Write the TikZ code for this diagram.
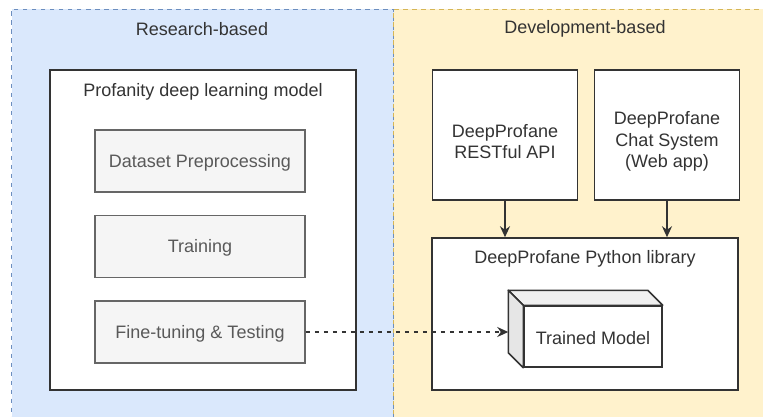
\documentclass[tikz,border=0pt]{standalone}
\usepackage{fontspec}
\setmainfont{Liberation Sans}
\usepackage{xcolor}
\definecolor{resfill}{HTML}{DAE8FC}
\definecolor{resline}{HTML}{6C8EBF}
\definecolor{devfill}{HTML}{FFF2CC}
\definecolor{devline}{HTML}{D6B656}
\definecolor{txt}{HTML}{333333}
\definecolor{stepfill}{HTML}{F5F5F5}
\definecolor{stepline}{HTML}{666666}
\definecolor{cubetop}{HTML}{F0F0F0}
\definecolor{cubeleft}{HTML}{E6E6E6}
\usetikzlibrary{arrows.meta, positioning}
\tikzset{
    panel/.style={
        draw, dashed,
        dash pattern=on 4.5pt off 4.5pt,
        line width=1pt,
        inner sep=0pt
    },
    caption/.style={
        text=txt,
        inner sep=0pt,
        font=\fontsize{18}{21.5}\selectfont
    },
    block/.style={
        draw=black!80, line width=1.5pt,
        fill=white,
        inner sep=0pt,
        text=txt,
        align=center,
        font=\fontsize{18}{21.5}\selectfont
    },
    stepbox/.style={
        block,
        draw=stepline, fill=stepfill,
        text=black!65,
        minimum width=210pt, minimum height=62pt,
        node distance=22pt
    },
    conn/.style={
        line width=1.5pt, draw=black!80,
        -{Stealth[length=11pt, width=10pt]}
    },
}

\begin{document}
\begin{tikzpicture}[x=1pt, y=-1pt]
        \clip (0,0) rectangle (763,417);
        % the two areas
        \node[panel, fill=resfill, draw=resline, minimum width=382pt, minimum height=440pt, anchor=north west] (research) at (11,9) {};
        \node[panel, fill=devfill, draw=devline, minimum width=390pt, minimum height=440pt, anchor=north west] (develop) at (393,9) {};
        \node[caption] (researchlbl) at (202,29) {Research-based};
        \node[caption] (developlbl) at (585,29) {Development-based};

        % research side
        \node[block, minimum width=306pt, minimum height=320pt] (model) at (203,230) {};
        \node[caption, below=14pt of model.north] (modellbl) {Profanity deep learning model};
        \node[stepbox] (prep) at (200,161) {\rule{0pt}{16pt}Dataset Preprocessing};
        \node[stepbox, below=of prep] (train) {\rule{0pt}{16pt}Training};
        \node[stepbox, below=of train] (fine) {\rule{0pt}{16pt}Fine-tuning \& Testing};

        % development side
        \node[block, minimum width=145pt, minimum height=130pt] (api) at (505,135) {\rule{0pt}{26pt}DeepProfane\\RESTful API};
        \node[block, minimum width=145pt, minimum height=130pt, right=15.5pt of api] (chat) {\rule{0pt}{26pt}DeepProfane\\Chat System\\(Web app)};
        \node[block, minimum width=306pt, minimum height=152pt] (lib) at (585,314) {};
        \node[caption, below=13pt of lib.north] (liblbl) {DeepProfane Python library};

        % trained model cube
        \node[block, minimum width=138pt, minimum height=61pt] (trained) at (593,336.5) {\rule{0pt}{16pt}Trained Model};
        \draw[line width=1.5pt, draw=black!80, fill=cubetop, line join=round]
            (trained.north west) -- ++(-15,-15) -- ([shift={(-15,-15)}]trained.north east) -- (trained.north east) -- cycle;
        \draw[line width=1.5pt, draw=black!80, fill=cubeleft, line join=round]
            (trained.north west) -- ++(-15,-15) -- ([shift={(-15,-15)}]trained.south west) -- (trained.south west) -- cycle;
        \coordinate (cubeside) at ([shift={(-15,-7.5)}]trained.west);

        \foreach \i/\j in {api/lib, chat/lib}
            \draw[conn] (\i.south) -- (\i.south |- \j.north);
        \draw[conn, dashed, dash pattern=on 4.5pt off 4.5pt] (fine.east) -- (fine.east -| cubeside);
\end{tikzpicture}
\end{document}
